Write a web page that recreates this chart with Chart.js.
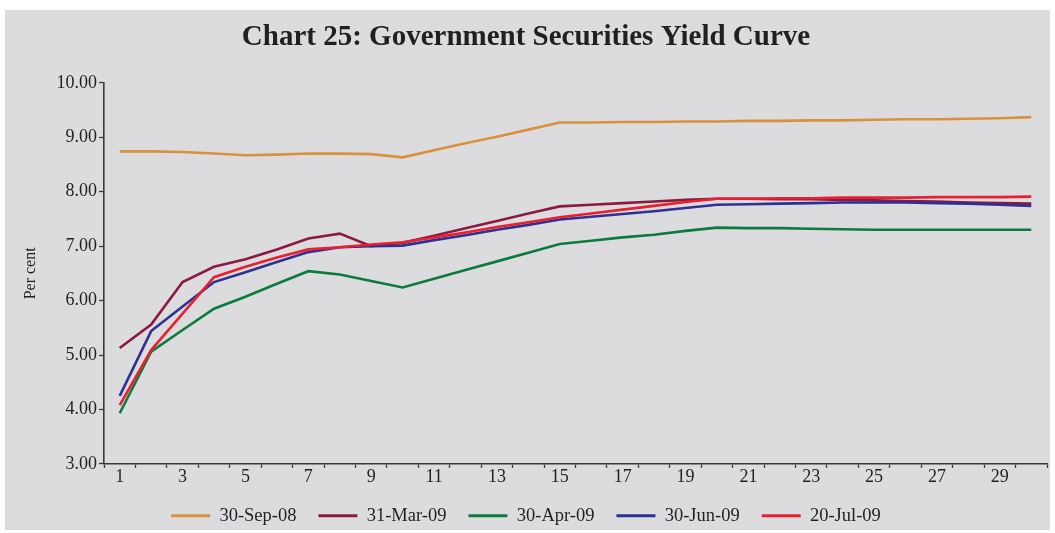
<!DOCTYPE html>
<html>
<head>
<meta charset="utf-8">
<script src="https://cdn.jsdelivr.net/npm/chart.js@4.4.1/dist/chart.umd.min.js"></script>
<style>
  html, body { margin: 0; padding: 0; background: #ffffff; }
  #panel {
    position: absolute; left: 5px; top: 10px;
    width: 1045px; height: 520px; background: #dcdcde;
  }
  #panel canvas { display: block; }
</style>
</head>
<body>
<div id="panel"><canvas id="chart" width="1045" height="520"></canvas></div>
<script>
// Government securities yield curve, residual maturity in years
const maturities = Array.from({ length: 30 }, (_, i) => String(i + 1));

const sep08 = [8.74, 8.74, 8.73, 8.70, 8.67, 8.68, 8.70, 8.70, 8.69, 8.63,
  8.76, 8.89, 9.01, 9.14, 9.27, 9.27, 9.28, 9.28, 9.29, 9.29,
  9.30, 9.30, 9.31, 9.31, 9.32, 9.33, 9.33, 9.34, 9.35, 9.37];
const mar09 = [5.13, 5.56, 6.34, 6.62, 6.76, 6.94, 7.14, 7.23, 7.00, 7.06,
  7.19, 7.33, 7.46, 7.60, 7.73, 7.76, 7.79, 7.82, 7.85, 7.87,
  7.87, 7.86, 7.86, 7.85, 7.84, 7.83, 7.82, 7.80, 7.79, 7.78];
const apr09 = [3.93, 5.06, 5.46, 5.85, 6.07, 6.31, 6.54, 6.48, 6.36, 6.24,
  6.40, 6.56, 6.72, 6.88, 7.04, 7.10, 7.16, 7.21, 7.28, 7.34,
  7.33, 7.33, 7.32, 7.31, 7.30, 7.30, 7.30, 7.30, 7.30, 7.30];
const jun09 = [4.25, 5.44, 5.89, 6.34, 6.52, 6.71, 6.89, 6.98, 7.00, 7.01,
  7.11, 7.20, 7.30, 7.39, 7.49, 7.54, 7.59, 7.64, 7.70, 7.76,
  7.77, 7.78, 7.79, 7.80, 7.80, 7.80, 7.79, 7.78, 7.76, 7.74];
const jul09 = [4.08, 5.09, 5.76, 6.43, 6.62, 6.79, 6.94, 6.98, 7.03, 7.07,
  7.16, 7.25, 7.35, 7.44, 7.53, 7.60, 7.67, 7.74, 7.81, 7.87,
  7.87, 7.88, 7.88, 7.89, 7.89, 7.89, 7.90, 7.90, 7.90, 7.91];

const seriesNames = ['30-Sep-08', '31-Mar-09', '30-Apr-09', '30-Jun-09', '20-Jul-09'];
const seriesData = [sep08, mar09, apr09, jun09, jul09];
const seriesColors = ['#d9913e', '#8b1a40', '#0b7b3e', '#2e3192', '#ea1f30'];

const SERIF = "'Liberation Serif', 'Times New Roman', serif";
const INK = '#231f20';
const AXIS = '#3a3a3a';

const datasets = seriesData.map((data, i) => ({
  label: seriesNames[i],
  data,
  borderColor: seriesColors[i],
  backgroundColor: seriesColors[i],
  borderWidth: 2.6,
  pointRadius: 0,
  tension: 0,
  order: seriesData.length - i, // later series drawn on top
}));

new Chart(document.getElementById('chart'), {
  type: 'line',
  data: { labels: maturities, datasets },
  options: {
    responsive: false,
    animation: false,
    layout: { padding: { left: 0, right: 3, top: 0, bottom: -5 } },
    plugins: {
      title: {
        display: true,
        text: 'Chart 25: Government Securities Yield Curve',
        color: INK,
        font: { family: SERIF, size: 29, weight: 'bold' },
        padding: { top: 10, bottom: 28 },
      },
      legend: {
        position: 'bottom',
        labels: {
          color: INK,
          font: { family: SERIF, size: 18.5 },
          boxWidth: 39,
          boxHeight: 3,
          padding: 22,
          sort: (a, b) => a.datasetIndex - b.datasetIndex,
          generateLabels: (chart) =>
            Chart.defaults.plugins.legend.labels.generateLabels(chart).map((l) => ({
              ...l,
              fillStyle: l.strokeStyle,
              lineWidth: 0,
            })),
        },
      },
      tooltip: { enabled: false },
    },
    scales: {
      x: {
        type: 'category',
        offset: true,
        grid: {
          offset: true,
          drawOnChartArea: false,
          drawTicks: true,
          tickLength: 4,
          color: AXIS,
          tickWidth: 1.3,
        },
        border: { display: true, color: AXIS, width: 1.6 },
        ticks: {
          autoSkip: false,
          maxRotation: 0,
          padding: -1,
          color: INK,
          font: { family: SERIF, size: 18 },
          callback: (v, i) => (i % 2 === 0 ? maturities[i] : ''),
        },
        afterFit: (scale) => { scale.height -= 3; },
      },
      y: {
        min: 3,
        max: 10,
        grid: {
          drawOnChartArea: false,
          drawTicks: true,
          tickLength: 5,
          color: AXIS,
          tickWidth: 1.3,
        },
        border: { display: true, color: AXIS, width: 1.6 },
        ticks: {
          stepSize: 1,
          padding: 2,
          color: INK,
          font: { family: SERIF, size: 18 },
          callback: (v) => Number(v).toFixed(2),
        },
        title: {
          display: true,
          text: 'Per cent',
          color: INK,
          font: { family: SERIF, size: 16 },
          padding: { top: 16, bottom: 0 },
        },
        afterFit: (scale) => { scale.width = 99; },
      },
    },
  },
});
</script>
</body>
</html>
